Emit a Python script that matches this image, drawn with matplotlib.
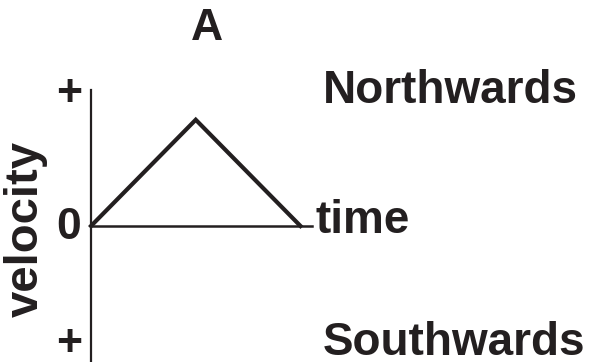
import matplotlib
matplotlib.use("Agg")
import matplotlib.pyplot as plt

# data
time_pts = [0, 1, 2]
velocity_pts = [0, 1, 0]
tick_labels = ["+", "0", "+"]
direction_labels = ["Northwards", "Southwards"]
title = "A"
xlabel = "time"
ylabel = "velocity"

ink = "#231f20"
plt.rcParams["font.family"] = ["Liberation Sans", "DejaVu Sans"]
plt.rcParams["font.weight"] = "bold"

W, H = 594, 362
fig = plt.figure(figsize=(W / 100, H / 100), dpi=100)
ax = fig.add_axes([91 / W, 0, 221 / W, 272 / H])
ax.set_xlim(0, 2.11)
ax.set_ylim(-1.28, 1.28)

ax.plot(time_pts, velocity_pts, color=ink, lw=3.0, solid_joinstyle="miter",
        clip_on=False)

for s in ["top", "right"]:
    ax.spines[s].set_visible(False)
ax.spines["bottom"].set_position(("data", 0))
ax.spines["left"].set_linewidth(1.6)
ax.spines["bottom"].set_linewidth(1.8)
ax.spines["left"].set_color(ink)
ax.spines["bottom"].set_color(ink)
ax.set_xticks([])
ax.set_yticks([])
ax.patch.set_visible(False)

fs = 33
# tick-like labels
ax.text(-0.21, 1.24, tick_labels[0], ha="center", va="center", fontsize=32,
        fontweight="bold", color=ink)
ax.text(-0.21, -0.01, tick_labels[1], ha="center", va="center", fontsize=32,
        fontweight="bold", color=ink)
ax.text(-0.21, -1.12, tick_labels[2], ha="center", va="center", fontsize=32,
        fontweight="bold", color=ink)

fig.text(26 / W, 1 - 229 / H, ylabel, rotation=90, ha="center", va="center",
         fontsize=34, fontweight="bold", color=ink)
fig.text(315 / W, 1 - 221 / H, xlabel, ha="left", va="center",
         fontsize=fs, fontweight="bold", color=ink)
fig.text(323 / W, 1 - 91 / H, direction_labels[0], ha="left", va="center",
         fontsize=fs, fontweight="bold", color=ink)
fig.text(323 / W, 1 - 343 / H, direction_labels[1], ha="left", va="center",
         fontsize=fs, fontweight="bold", color=ink)
fig.text(207 / W, 1 - 29 / H, title, ha="center", va="center",
         fontsize=32, fontweight="bold", color=ink)

fig.savefig("out.png", dpi=100)
